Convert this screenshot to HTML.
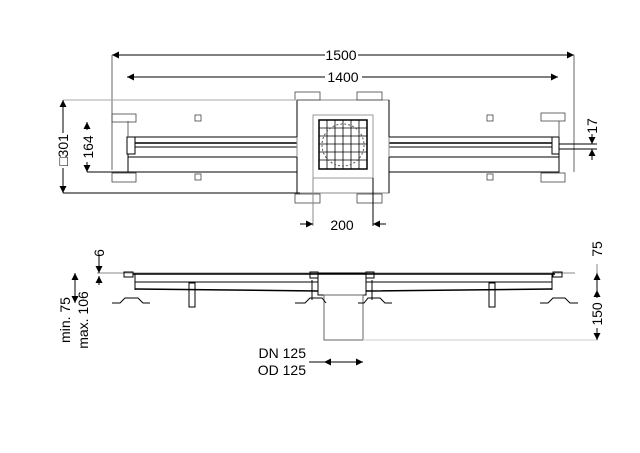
<!DOCTYPE html>
<html><head><style>body{margin:0;background:#fff}svg{display:block}text{font-family:"Liberation Sans",sans-serif;fill:#000}</style></head><body>
<svg width="640" height="453" viewBox="0 0 640 453" xmlns="http://www.w3.org/2000/svg">
<defs>
<marker id="a" viewBox="0 0 10 10" refX="10" refY="5" markerUnits="userSpaceOnUse" markerWidth="10" markerHeight="7" orient="auto-start-reverse"><path d="M0,0L10,5L0,10z" fill="#000"/></marker>
</defs>
<g stroke="#000" stroke-width="1" fill="none">
<line x1="112" y1="55" x2="325" y2="55" marker-start="url(#a)"/><line x1="358" y1="55" x2="574" y2="55" marker-end="url(#a)"/>
<line x1="127" y1="77" x2="325" y2="77" marker-start="url(#a)"/><line x1="362" y1="77" x2="558" y2="77" marker-end="url(#a)"/>
<line x1="112" y1="55" x2="112" y2="170" stroke="#666"/><line x1="574" y1="55" x2="574" y2="172" stroke="#666"/>
<rect x="128" y="137" width="431" height="20"/>
<line x1="135" y1="143" x2="552" y2="143" stroke-width="1.5"/><line x1="135" y1="147" x2="552" y2="147"/>
<rect x="127" y="137" width="8" height="17" fill="#fff"/><rect x="552" y="137" width="7" height="17" fill="#fff"/>
<rect x="128" y="157" width="169" height="15"/><rect x="389" y="157" width="170" height="15"/>
<rect x="297" y="100" width="92" height="93" fill="#fff" stroke="#888"/>
<line x1="297" y1="100" x2="297" y2="137"/><line x1="389" y1="100" x2="389" y2="137"/>
<line x1="297" y1="157" x2="297" y2="193"/><line x1="389" y1="157" x2="389" y2="193"/>
<rect x="313" y="115" width="60" height="63" fill="#fff" stroke="#999"/>
<rect x="319" y="120" width="48" height="49" stroke-width="1.5"/>
<g stroke-width="0.8"><line x1="327" y1="120" x2="327" y2="169"/><line x1="335" y1="120" x2="335" y2="169"/><line x1="343" y1="120" x2="343" y2="169"/><line x1="351" y1="120" x2="351" y2="169"/><line x1="359" y1="120" x2="359" y2="169"/>
<line x1="319" y1="128" x2="367" y2="128"/><line x1="319" y1="136" x2="367" y2="136"/><line x1="319" y1="144" x2="367" y2="144"/><line x1="319" y1="152" x2="367" y2="152"/><line x1="319" y1="160" x2="367" y2="160"/></g>
<circle cx="343" cy="145" r="21" stroke-dasharray="2 2" stroke="#555"/>
<g stroke="#444" stroke-width="0.8">
<rect x="112" y="114" width="24" height="8"/><rect x="112" y="173" width="24" height="9"/>
<rect x="195" y="115" width="6" height="6"/><rect x="195" y="174" width="6" height="6"/>
<rect x="295" y="92" width="25" height="8"/><rect x="357" y="92" width="25" height="8"/>
<rect x="295" y="194" width="25" height="9"/><rect x="357" y="194" width="25" height="9"/>
<rect x="487" y="115" width="6" height="6"/><rect x="487" y="174" width="6" height="6"/>
<rect x="541" y="113" width="24" height="8"/><rect x="541" y="173" width="24" height="9"/>
<line x1="128" y1="121" x2="128" y2="137"/><line x1="559" y1="121" x2="559" y2="137"/>
</g>
<line x1="63" y1="100" x2="297" y2="100" stroke="#aaa"/><line x1="63" y1="193" x2="300" y2="193"/>
<line x1="63" y1="100" x2="63" y2="133" marker-start="url(#a)"/><line x1="63" y1="168" x2="63" y2="193" marker-end="url(#a)"/>
<line x1="87" y1="172" x2="128" y2="172"/>
<line x1="87" y1="122" x2="87" y2="130" marker-start="url(#a)"/><line x1="87" y1="162" x2="87" y2="172" marker-end="url(#a)"/>
<line x1="559" y1="144" x2="597" y2="144"/><line x1="559" y1="149" x2="597" y2="149"/>
<line x1="592" y1="134" x2="592" y2="144" marker-end="url(#a)"/><line x1="592" y1="160" x2="592" y2="149" marker-end="url(#a)"/>
<line x1="313" y1="178" x2="313" y2="226" stroke="#888"/><line x1="373" y1="178" x2="373" y2="226"/>
<line x1="300" y1="224" x2="313" y2="224" marker-end="url(#a)"/><line x1="386" y1="224" x2="373" y2="224" marker-end="url(#a)"/>
<line x1="97" y1="273" x2="125" y2="273" stroke="#888"/>
<line x1="125" y1="273" x2="575" y2="273" stroke="#888"/>
<line x1="133" y1="274" x2="555" y2="274" stroke-width="1.5"/>
<line x1="135" y1="282" x2="318" y2="282"/><line x1="366" y1="282" x2="552" y2="282"/>
<path d="M135,289 L318,291 M366,291 L552,289" stroke-width="1.5"/>
<line x1="135" y1="274" x2="135" y2="290"/><line x1="552" y1="274" x2="552" y2="290"/>
<rect x="124" y="272" width="9" height="5"/><rect x="553" y="272" width="9" height="5"/>
<rect x="310" y="272" width="8" height="6"/><rect x="366" y="272" width="8" height="6"/>
<rect x="318" y="273" width="48" height="22"/>
<rect x="324" y="295" width="39" height="45" stroke="#666"/>
<rect x="189" y="283" width="6" height="24"/><rect x="489" y="283" width="6" height="24"/>
<path d="M112,303 L120,303 L125,298 L138,298 L143,303 L150,303"/>
<path d="M295,303 L305,303 L310,298 L322,298 L326,303"/>
<path d="M358,303 L364,303 L368,298 L380,298 L385,303 L392,303"/>
<path d="M540,303 L548,303 L553,298 L565,298 L570,303 L578,303"/>
<line x1="312" y1="280" x2="312" y2="300"/><line x1="372" y1="280" x2="372" y2="300"/>
<line x1="99" y1="255" x2="99" y2="273" marker-end="url(#a)"/><line x1="99" y1="285" x2="99" y2="276" marker-end="url(#a)"/>
<line x1="75" y1="288" x2="75" y2="273" marker-end="url(#a)"/><line x1="75" y1="288" x2="75" y2="303" marker-end="url(#a)"/>
<line x1="363" y1="340" x2="598" y2="340" stroke="#ccc"/>
<line x1="597" y1="264" x2="597" y2="273" stroke="#888"/>
<line x1="597" y1="290" x2="597" y2="273" marker-end="url(#a)"/><line x1="597" y1="290" x2="597" y2="298" marker-start="url(#a)"/>
<line x1="597" y1="328" x2="597" y2="340" marker-end="url(#a)"/>
<line x1="324" y1="362" x2="363" y2="362" marker-start="url(#a)" marker-end="url(#a)"/>
<line x1="309" y1="362" x2="324" y2="362"/>
</g>
<g font-size="14">
<rect x="326" y="46" width="30" height="16" fill="#fff"/><text x="341" y="60" text-anchor="middle">1500</text>
<rect x="326" y="68" width="34" height="16" fill="#fff"/><text x="343" y="82" text-anchor="middle">1400</text>
<text x="342" y="230" text-anchor="middle">200</text>
<rect x="56" y="134" width="14" height="34" fill="#fff"/>
<text transform="translate(68,150) rotate(-90)" text-anchor="middle">□301</text>
<text transform="translate(93,147) rotate(-90)" text-anchor="middle">164</text>
<text transform="translate(597,126) rotate(-90)" text-anchor="middle">17</text>
<text transform="translate(104,253) rotate(-90)" text-anchor="middle">6</text>
<text transform="translate(70,320) rotate(-90)" text-anchor="middle">min. 75</text>
<text transform="translate(88,320) rotate(-90)" text-anchor="middle">max. 106</text>
<text transform="translate(602,249) rotate(-90)" text-anchor="middle">75</text>
<text transform="translate(602,314) rotate(-90)" text-anchor="middle">150</text>
<text x="306" y="358" text-anchor="end">DN 125</text>
<text x="306" y="375" text-anchor="end">OD 125</text>
</g>
</svg>
</body></html>
